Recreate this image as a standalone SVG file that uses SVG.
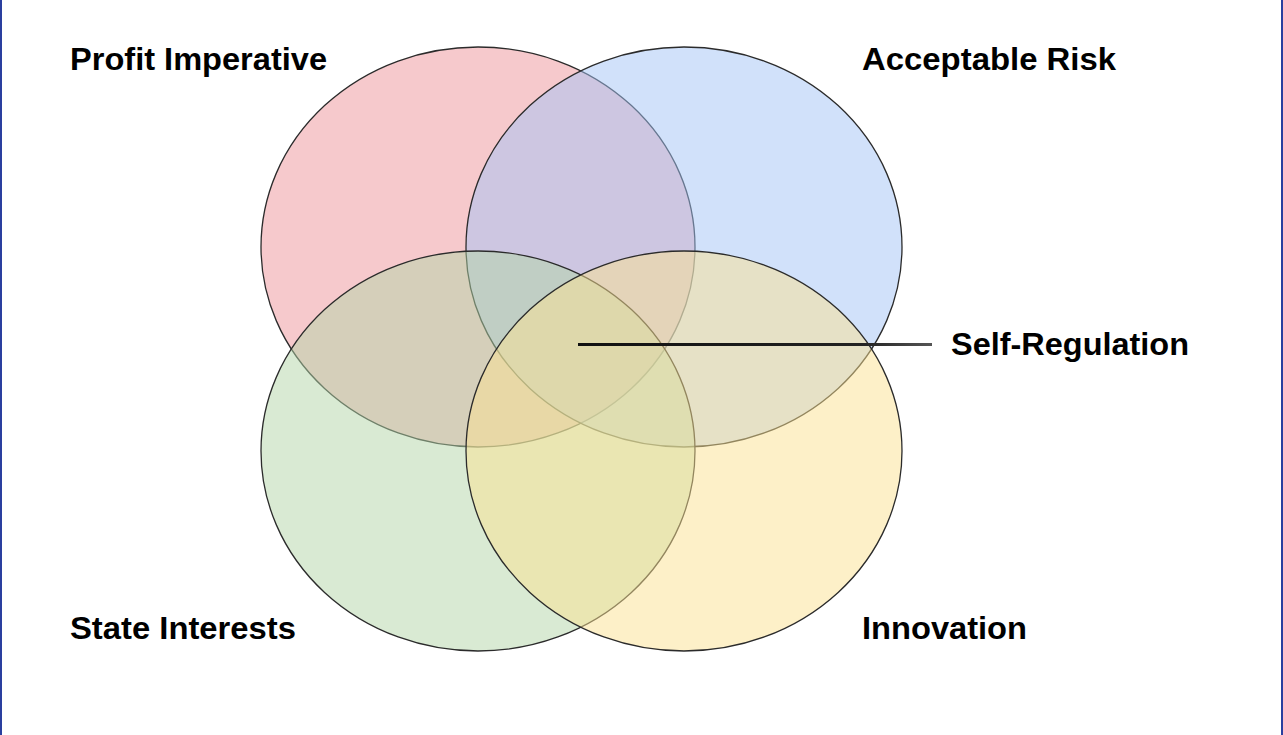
<svg xmlns="http://www.w3.org/2000/svg" width="1283" height="735" viewBox="0 0 1283 735">
<style>
.c{stroke:#2b2b2b;stroke-width:1.3;fill-opacity:0.5}
.t{font-family:"Liberation Sans",Arial,sans-serif;font-weight:bold;font-size:31px;fill:#000}
</style>
<defs>
<linearGradient id="lg" gradientUnits="userSpaceOnUse" x1="578" y1="0" x2="932" y2="0">
<stop offset="0" stop-color="#111"/>
<stop offset="0.8" stop-color="#222"/>
<stop offset="1" stop-color="#555"/>
</linearGradient>
</defs>
<rect width="1283" height="735" fill="#ffffff"/>
<rect x="0" y="0" width="2" height="735" fill="#2a3f9f"/>
<rect x="1281" y="0" width="2" height="735" fill="#2a3f9f"/>
<g id="profit-imperative"><ellipse class="c" cx="478" cy="247" rx="217" ry="200" fill="#ed9399"/></g>
<g id="acceptable-risk"><ellipse class="c" cx="684" cy="247" rx="218" ry="200" fill="#a3c3f5"/></g>
<g id="state-interests"><ellipse class="c" cx="478" cy="451" rx="217" ry="200" fill="#b3d5a7"/></g>
<g id="innovation"><ellipse class="c" cx="684" cy="451" rx="218" ry="200" fill="#fbe191"/></g>
<g id="connectors"><line x1="578" y1="344.5" x2="932" y2="344.5" stroke="url(#lg)" stroke-width="3"/></g>
<g id="labels">
<text class="t" x="70" y="70" textLength="257" lengthAdjust="spacingAndGlyphs">Profit Imperative</text>
<text class="t" x="862" y="70" textLength="254" lengthAdjust="spacingAndGlyphs">Acceptable Risk</text>
<text class="t" x="951" y="355" textLength="238" lengthAdjust="spacingAndGlyphs">Self-Regulation</text>
<text class="t" x="70" y="639" textLength="226" lengthAdjust="spacingAndGlyphs">State Interests</text>
<text class="t" x="862" y="639" textLength="165" lengthAdjust="spacingAndGlyphs">Innovation</text>
</g>
</svg>
